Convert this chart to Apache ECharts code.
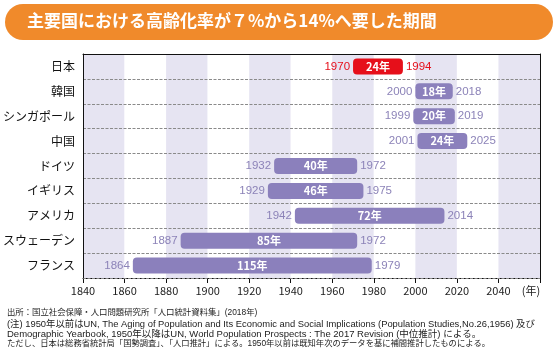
<!DOCTYPE html>
<html><head><meta charset="utf-8">
<script src="https://cdn.jsdelivr.net/npm/echarts@6/dist/echarts.min.js"></script>
<style>html,body{margin:0;padding:0;background:#fff}#c{width:558px;height:358px}</style>
</head><body><div id="c"></div>
<script>
var categories = ['日本','韓国','シンガポール','中国','ドイツ','イギリス','アメリカ','スウェーデン','フランス'];
var startYears = [1970,2000,1999,2001,1932,1929,1942,1887,1864];
var endYears   = [1994,2018,2019,2025,1972,1975,2014,1972,1979];
var durations  = [24,18,20,24,40,46,72,85,115];
var xTicks = [1840,1860,1880,1900,1920,1940,1960,1980,2000,2020,2040,2060];
var titleText = '主要国における高齢化率が７%から14%へ要した期間';
var notes = [
  '出所：国立社会保障・人口問題研究所「人口統計資料集」(2018年)',
  '(注) 1950年以前はUN, The Aging of Population and Its Economic and Social Implications (Population Studies,No.26,1956) 及び',
  'Demographic Yearbook, 1950年以降はUN, World Population Prospects : The 2017 Revision (中位推計) による。',
  'ただし、日本は総務省統計局「国勢調査」、「人口推計」による。1950年以前は既知年次のデータを基に補間推計したものによる。'
];

var FONT = '"Noto Sans CJK JP", "Noto Sans", sans-serif';
var NFONT = '"Liberation Sans", "Noto Sans CJK JP", sans-serif';
var PURPLE = '#8b80bc', PURPLE_TXT = '#8c83b8', RED = '#e60f1a';

var data = categories.map(function(c,i){ return [startYears[i], endYears[i], i, durations[i]]; });

var chart = echarts.init(document.getElementById('c'));
chart.setOption({
  animation:false,
  textStyle:{fontFamily:FONT},
  graphic:[
    {type:'rect', left:5, top:4, shape:{width:548, height:36, r:18}, style:{fill:'#f08a2b'}, z:10},
    {type:'text', left:27, top:12, style:{text:titleText, fill:'#fff', font:'bold 17px '+FONT}, z:11},
    {type:'text', left:7, top:308, style:{text:notes[0], fill:'#222', font:'8.4px '+NFONT}},
    {type:'text', left:7, top:319.5, style:{text:notes[1], fill:'#222', font:'9.4px '+NFONT}},
    {type:'text', left:7, top:329.5, style:{text:notes[2], fill:'#222', font:'9.5px '+NFONT}},
    {type:'text', left:7, top:339.5, style:{text:notes[3], fill:'#222', font:'8.3px '+NFONT}}
  ],
  grid:{left:78, right:18, top:54, bottom:80},
  xAxis:[{
    type:'value', min:1840, max:2060, interval:20, z:0,
    axisLine:{show:true, lineStyle:{color:'#111'}},
    axisTick:{show:true, length:5, lineStyle:{color:'#111'}},
    axisLabel:{color:'#222', fontSize:11, margin:7, showMaxLabel:true,
      formatter:function(v){ return v===2060 ? '{u|(年)}' : String(v); },
      rich:{u:{fontSize:11, color:'#222', padding:[0,18,0,0]}}},
    splitLine:{show:false},
    splitArea:{show:true, areaStyle:{color:['#e6e4f2','#ffffff']}}
  },{
    type:'value', position:'top', min:1840, max:2060, interval:20, z:3,
    axisLine:{show:true, lineStyle:{color:'#111'}},
    axisTick:{show:false}, axisLabel:{show:false}, splitLine:{show:false}
  }],
  yAxis:[{
    type:'category', data:categories, inverse:true, z:2,
    axisLine:{show:true, lineStyle:{color:'#111'}},
    axisTick:{show:false},
    axisLabel:{color:'#111', fontSize:12, margin:8},
    splitLine:{show:true, interval:0, lineStyle:{color:'#8a8a8a', type:[3,1.5], width:1}}
  },{
    type:'category', data:categories, inverse:true, position:'right', z:3,
    axisLine:{show:true, lineStyle:{color:'#111'}},
    axisTick:{show:false}, axisLabel:{show:false}, splitLine:{show:false}
  }],
  series:[{
    type:'custom', z:5,
    encode:{x:[0,1], y:2},
    data:data,
    renderItem:function(params, api){
      var s = api.value(0), e = api.value(1), idx = api.value(2), d = api.value(3);
      var p0 = api.coord([s, idx]), p1 = api.coord([e, idx]);
      var h = 16;
      var isJ = idx === 0;
      var fill = isJ ? RED : PURPLE;
      var tc = isJ ? RED : PURPLE_TXT;
      return {type:'group', children:[
        {type:'rect', shape:{x:p0[0], y:p0[1]-h/2, width:p1[0]-p0[0], height:h, r:4}, style:{fill:fill}},
        {type:'text', style:{text:d+'年', x:(p0[0]+p1[0])/2, y:p0[1], align:'center', verticalAlign:'middle', fill:'#fff', font:'bold 11px '+FONT}},
        {type:'text', style:{text:String(s), x:p0[0]-3, y:p0[1], align:'right', verticalAlign:'middle', fill:tc, font:'11.5px '+NFONT}},
        {type:'text', style:{text:String(e), x:p1[0]+3, y:p0[1], align:'left', verticalAlign:'middle', fill:tc, font:'11.5px '+NFONT}}
      ]};
    }
  }]
});
</script></body></html>
